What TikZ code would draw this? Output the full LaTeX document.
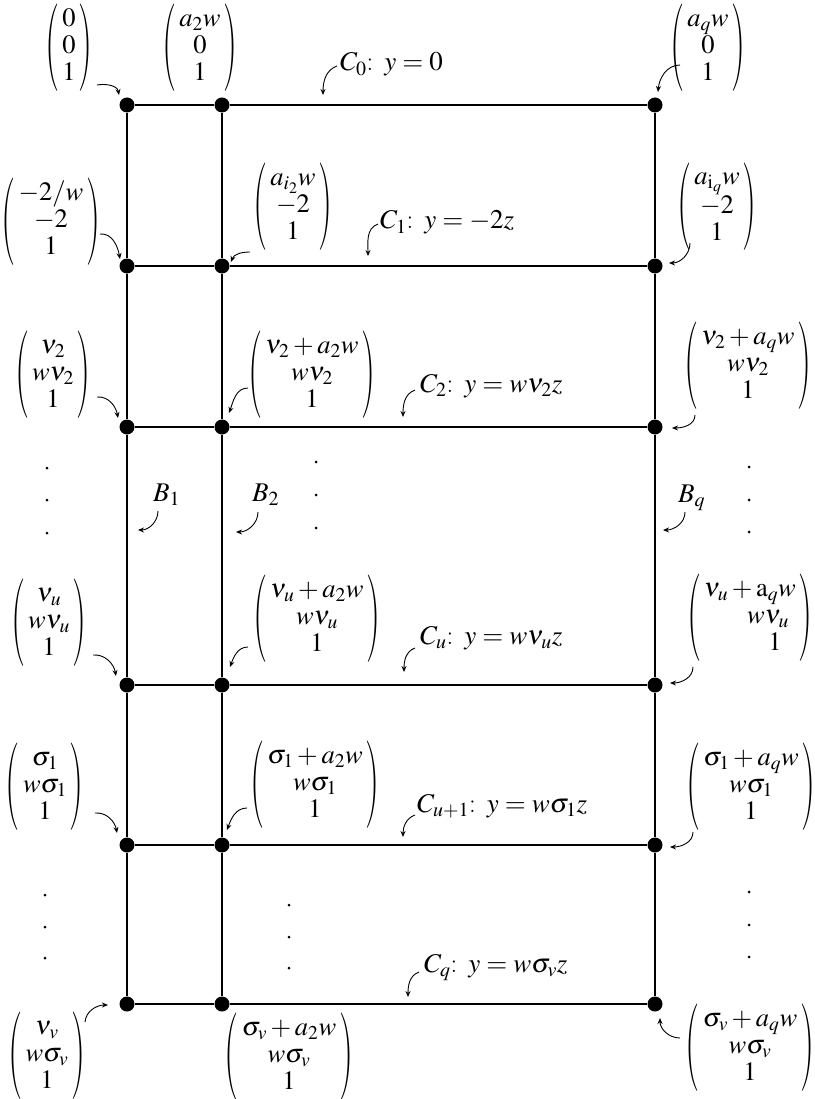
\documentclass[tikz,border=0pt]{standalone}
\usepackage{mathptmx}
\usepackage{graphicx}
\usetikzlibrary{arrows.meta}
\newcommand\vparL{\vcenter{\hbox{\scalebox{1.5}[3.3]{(}}}}
\newcommand\vparR{\vcenter{\hbox{\scalebox{1.5}[3.3]{)}}}}
\newcommand\colvec[3]{$\vparL\begin{array}{@{\hspace{3pt}}c@{\hspace{3pt}}}#1\\#2\\#3\end{array}\vparR$}
\begin{document}
\begin{tikzpicture}[x=1pt,y=1pt,
 grid/.style={line width=1.4pt},
 vtx/.style={circle,fill=black,inner sep=0pt,minimum size=15pt},
 mat/.style={inner sep=0pt,font=\fontsize{26.5}{27}\selectfont},
 lab/.style={inner sep=0pt,anchor=base west,font=\fontsize{27}{28}\selectfont},
 arr/.style={line width=0.9pt,-{Stealth[length=6pt,width=5pt]}},
 ell/.style={circle,fill=black,inner sep=0pt,minimum size=3pt}]
\useasboundingbox (0,0) rectangle (814,-1099);

% vertices
\foreach \r/\y in {0/105,1/266,2/427,3/685,4/845,5/1004}{
  \node[vtx] (a\r) at (127,-\y) {};
  \node[vtx] (b\r) at (222,-\y) {};
  \node[vtx] (c\r) at (655,-\y) {};
}
% grid lines
\foreach \r in {0,...,5}{ \draw[grid] (a\r) -- (b\r) -- (c\r); }
\foreach \c in {a,b,c}{ \draw[grid] (\c0) -- (\c1) -- (\c2) -- (\c3) -- (\c4) -- (\c5); }

% column vectors
\node[mat] (m00)   at (69,-48)   {\colvec{0}{0}{1}};
\node[mat] (ma2)   at (200,-48)  {\colvec{a_2w}{0}{1}};
\node[mat] (maq)   at (708,-48)  {\colvec{a_qw}{0}{1}};
\node[mat] (mm2w)  at (51,-222)  {\colvec{-2/w}{-2}{1}};
\node[mat] (mai2)  at (293,-207) {\colvec{a_{i_2}w}{-2}{1}};
\node[mat] (maiq)  at (717,-207) {\colvec{a_{\mathrm{i}_q}w}{-2}{1}};
\node[mat] (mnu2)  at (53,-375)  {\colvec{\nu_2}{w\nu_2}{1}};
\node[mat] (mnu2b) at (312,-375) {\colvec{\nu_2+a_2w}{w\nu_2}{1}};
\node[mat] (mnu2c) at (748,-366) {\colvec{\nu_2+a_qw}{w\nu_2}{1}};
\node[mat] (mnuu)  at (49,-623)  {\colvec{\nu_u}{w\nu_u}{1}};
\node[mat] (mnuub) at (317,-619) {\colvec{\nu_u+a_2w}{w\nu_u}{1}};
\node[mat] (mnuuc) at (750,-618) {\colvec{\nu_u+\mathrm{a}_qw}{\hspace{36pt}w\nu_u}{\hspace{50pt}1}};
\node[mat] (msg1)  at (45,-787)  {\colvec{\sigma_1}{w\sigma_1}{1}};
\node[mat] (msg1b) at (315,-785) {\colvec{\sigma_1+a_2w}{w\sigma_1}{1}};
\node[mat] (msg1c) at (751,-787) {\colvec{\sigma_1+a_qw}{w\sigma_1}{1}};
\node[mat] (mnuv)  at (47,-1056) {\colvec{\nu_v}{w\sigma_v}{1}};
\node[mat] (msgvb) at (289,-1057) {\colvec{\sigma_v+a_2w}{w\sigma_v}{1}};
\node[mat] (msgvc) at (750,-1048) {\colvec{\sigma_v+a_qw}{w\sigma_v}{1}};

% curve labels
\node[lab] (C0)  at (340,-71)  {$C_0$: $y=0$};
\node[lab] (C1)  at (380,-229) {$C_1$: $y=-2z$};
\node[lab] (C2)  at (420,-392) {$C_2$: $y=w\nu_2z$};
\node[lab] (Cu)  at (420,-644) {$C_u$: $y=w\nu_uz$};
\node[lab] (Cu1) at (417,-812) {$C_{u+1}$: $y=w\sigma_1z$};
\node[lab] (Cq)  at (424,-972) {$C_q$: $y=w\sigma_vz$};
\node[lab] (B1)  at (153,-501) {$B_1$};
\node[lab] (B2)  at (252,-501) {$B_2$};
\node[lab] (Bq)  at (678,-502) {$B_q$};

% ellipsis dots
\foreach \n/\x/\ya/\yb/\yc in {l1/47/468/500/533, m1/316/462/495/528, r1/749/467/500/532,
                               l2/45/895/927/958, m2/289/905/937/968, r2/749/892/925/957}{
  \node[ell] (\n a) at (\x,-\ya) {};
  \node[ell] (\n b) at (\x,-\yb) {};
  \node[ell] (\n c) at (\x,-\yc) {};
}

% curved pointer arrows
\foreach \n/\sx/\sy/\ex/\ey/\o/\i in {
  p1/97/85/119/95/10/100,
  p2/680/65/658/92/180/85,
  p3/337/66/323/95/200/90,
  p4/100/234/120/259/5/100,
  p5/250/252/231/262/180/70,
  p6/378/224/368/256/200/90,
  p7/690/243/669/263/-90/0,
  p8/97/397/118/418/5/100,
  p9/248/388/229/413/180/70,
  p10/415/390/403/417/200/90,
  p11/695/415/672/428/-90/0,
  p12/158/511/138/530/-90/0,
  p13/258/512/236/532/-90/0,
  p14/685/512/663/530/-90/0,
  p15/93/655/116/676/5/100,
  p16/248/647/230/667/180/70,
  p17/415/648/404/672/200/90,
  p18/693/667/670/683/-90/0,
  p19/95/813/117/833/5/100,
  p20/247/808/227/830/180/70,
  p21/415/815/403/837/200/90,
  p22/693/832/670/847/-90/0,
  p23/419/972/408/997/200/90,
  p24/85/1022/108/1005/85/180,
  p25/680/1038/660/1018/180/-90}{
  \coordinate (\n s) at (\sx,-\sy);
  \coordinate (\n e) at (\ex,-\ey);
  \draw[arr] (\n s) to[out=\o,in=\i] (\n e);
}
\end{tikzpicture}
\end{document}
